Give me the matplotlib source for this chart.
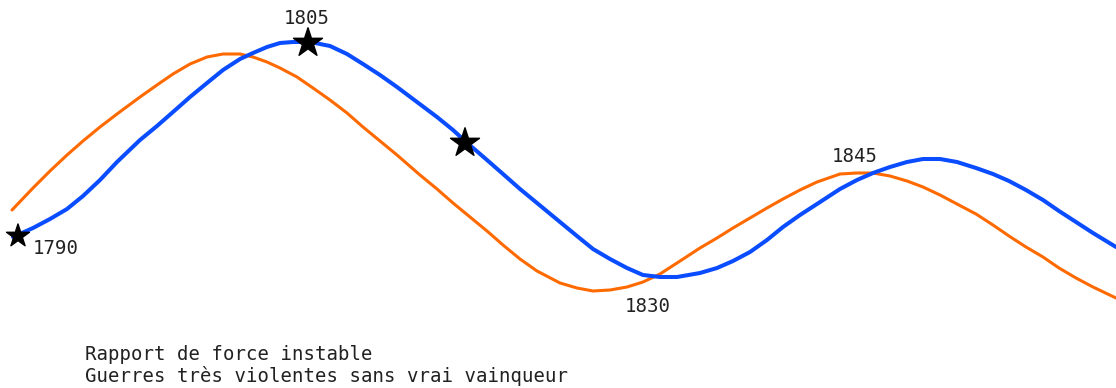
import matplotlib
matplotlib.use('Agg')
import matplotlib.pyplot as plt

# curve points (pixel grid, y downwards)
blue_x = [13, 33, 50, 67, 83, 100, 117, 140, 157, 173, 190, 207, 223, 240, 253, 267, 280,
          293, 310, 330, 347, 363, 380, 397, 413, 437, 453, 465, 487, 503, 520, 537, 560,
          577, 593, 610, 627, 643, 660, 677, 700, 717, 733, 750, 767, 783, 800, 817, 840,
          857, 873, 890, 907, 923, 940, 957, 976, 993, 1009, 1026, 1043, 1059, 1076, 1093,
          1116]
blue_y = [237, 228, 219, 209, 196, 180, 162, 140, 126, 112, 97, 83, 70, 59, 53, 47, 43,
          42, 42, 46, 54, 64, 75, 87, 99, 117, 130, 141, 160, 174, 189, 203, 222,
          236, 249, 259, 268, 275, 277, 277, 273, 268, 261, 252, 240, 227, 215, 204, 189,
          180, 173, 167, 162, 159, 159, 162, 168, 174, 181, 190, 200, 211, 222, 233,
          247]

orange_x = [12, 33, 50, 67, 83, 100, 117, 140, 157, 173, 190, 207, 223, 240, 253, 267, 280,
            297, 313, 330, 347, 363, 380, 397, 420, 437, 453, 470, 487, 503, 520, 537, 560,
            577, 593, 610, 627, 643, 660, 677, 700, 717, 733, 750, 767, 783, 800, 817, 840,
            857, 873, 890, 907, 923, 940, 957, 976, 993, 1009, 1026, 1043, 1059, 1076, 1093,
            1116]
orange_y = [210, 188, 171, 155, 141, 127, 114, 97, 85, 74, 64, 57, 54, 54, 57, 62, 68,
            77, 88, 100, 113, 127, 141, 155, 175, 189, 203, 217, 231, 245, 259, 271, 283,
            288, 291, 290, 287, 282, 274, 263, 248, 238, 228, 218, 208, 199, 190, 182, 174,
            173, 173, 176, 181, 187, 195, 204, 214, 225, 236, 247, 257, 268, 278, 287,
            298]

star_x = [18, 308, 465]
star_y = [236, 43, 143]
star_size = [300, 480, 480]

years = ['1790', '1805', '1830', '1845']
year_x = [33, 307, 648, 855]
year_y = [249, 19, 306, 156]
year_ha = ['left', 'center', 'center', 'center']

notes = ['Rapport de force instable', 'Guerres très violentes sans vrai vainqueur']
notes_y = [355, 376]

fig = plt.figure(figsize=(11.16, 3.88), dpi=100)
ax = fig.add_axes([0, 0, 1, 1])
ax.set_xlim(0, 1116)
ax.set_ylim(388, 0)
ax.axis('off')

ax.plot(orange_x, orange_y, color='#ff6a00', lw=2.2, solid_joinstyle='round',
        solid_capstyle='round', zorder=2)
ax.plot(blue_x, blue_y, color='#0a4cff', lw=2.9, solid_joinstyle='round',
        solid_capstyle='round', zorder=3)
ax.scatter(star_x, star_y, s=star_size, marker='*', color='black', zorder=4)

for t, x, y, ha in zip(years, year_x, year_y, year_ha):
    ax.text(x, y, t, ha=ha, va='center', family='DejaVu Sans Mono', fontsize=13.7,
            color='#222222')

for t, y in zip(notes, notes_y):
    ax.text(85, y, t, ha='left', va='center', family='DejaVu Sans Mono', fontsize=13.7,
            color='#222222')

plt.savefig('out.png', dpi=100)
plt.close()
